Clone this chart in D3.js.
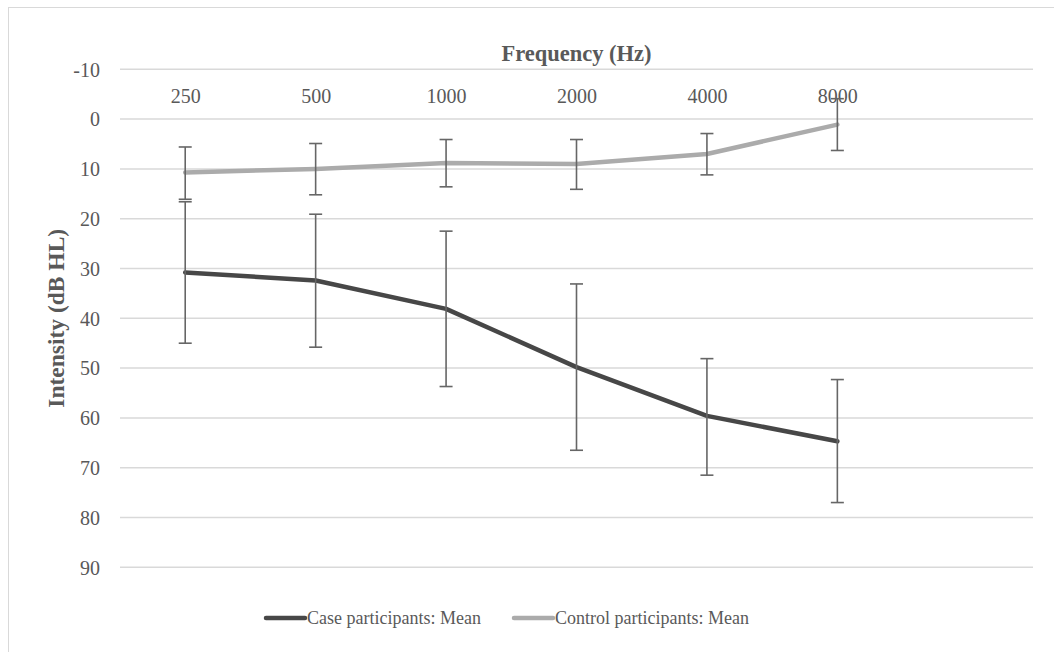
<!DOCTYPE html>
<html>
<head>
<meta charset="utf-8">
<script src="https://cdn.jsdelivr.net/npm/d3@7"></script>
<style>
  html, body { margin: 0; padding: 0; background: #fff; }
  svg { display: block; }
</style>
</head>
<body>
<svg id="chart" width="1054" height="652"></svg>
<script>
// ---- data ----
const categories = ["250", "500", "1000", "2000", "4000", "8000"];
const yTicks = [-10, 0, 10, 20, 30, 40, 50, 60, 70, 80, 90];

const caseMean  = [30.8, 32.4, 38.1, 49.8, 59.6, 64.7];
const caseLow   = [16.6, 19.1, 22.5, 33.1, 48.1, 52.3];
const caseHigh  = [45.0, 45.8, 53.7, 66.5, 71.5, 77.0];

const controlMean = [10.7, 10.0, 8.8, 9.0, 7.0, 1.1];
const controlLow  = [5.6, 4.9, 4.1, 4.1, 2.9, -4.1];
const controlHigh = [16.1, 15.2, 13.6, 14.1, 11.2, 6.3];

const seriesNames = ["Case participants: Mean", "Control participants: Mean"];

// ---- layout ----
const svg = d3.select("#chart");
const plotLeft = 120, plotRight = 1033;
const slots = 7; // the category axis holds one empty slot at the end
const x = d3.scalePoint()
  .domain(categories)
  .range([plotLeft, plotLeft + (plotRight - plotLeft) * (slots - 1) / slots])
  .padding(0.5);
const y = d3.scaleLinear().domain([-10, 90]).range([69.3, 567.3]);

const textColor = "#595959";
const serif = "'Liberation Serif', 'Times New Roman', serif";

// outer frame (top and left edges visible)
svg.append("rect")
  .attr("x", 8.5).attr("y", 7.5)
  .attr("width", 1100).attr("height", 700)
  .attr("fill", "none").attr("stroke", "#d9d9d9").attr("stroke-width", 1);

// gridlines
svg.append("g").selectAll("line").data(yTicks).join("line")
  .attr("x1", plotLeft).attr("x2", plotRight)
  .attr("y1", d => y(d)).attr("y2", d => y(d))
  .attr("stroke", "#d9d9d9").attr("stroke-width", 1.5);

// y axis
const yAxis = svg.append("g")
  .attr("transform", `translate(${plotLeft - 20},0)`)
  .call(d3.axisLeft(y).tickValues(yTicks).tickFormat(d => String(d)).tickSize(0).tickPadding(0));
yAxis.select(".domain").remove();
yAxis.selectAll("text")
  .attr("font-family", serif).attr("font-size", 20).attr("fill", textColor)
  .attr("dy", "0.34em");

// x axis labels (placed near the top)
const xAxis = svg.append("g")
  .attr("transform", `translate(0,103)`)
  .call(d3.axisBottom(x).tickSize(0).tickPadding(0));
xAxis.select(".domain").remove();
xAxis.selectAll("text")
  .attr("y", 0).attr("dy", 0)
  .attr("font-family", serif).attr("font-size", 20).attr("fill", textColor);

// axis titles
svg.append("text")
  .attr("x", (plotLeft + plotRight) / 2).attr("y", 61)
  .attr("text-anchor", "middle")
  .attr("font-family", serif).attr("font-size", 22.5).attr("font-weight", "bold")
  .attr("fill", textColor)
  .text("Frequency (Hz)");

svg.append("text")
  .attr("transform", `translate(64,${(y(-10) + y(90)) / 2}) rotate(-90)`)
  .attr("text-anchor", "middle")
  .attr("font-family", serif).attr("font-size", 23.5).attr("font-weight", "bold")
  .attr("fill", textColor)
  .text("Intensity (dB HL)");

// lines
const series = [
  { name: seriesNames[0], mean: caseMean, low: caseLow, high: caseHigh, color: "#474747" },
  { name: seriesNames[1], mean: controlMean, low: controlLow, high: controlHigh, color: "#ababab" }
];

const line = d3.line()
  .x((d, i) => x(categories[i]))
  .y(d => y(d));

series.forEach(s => {
  svg.append("path")
    .datum(s.mean)
    .attr("d", line)
    .attr("fill", "none")
    .attr("stroke", s.color)
    .attr("stroke-width", 4.5)
    .attr("stroke-linejoin", "round")
    .attr("stroke-linecap", "round");
});

// error bars
const errColor = "#666666";
const capHalf = 6.5;
series.forEach(s => {
  const g = svg.append("g");
  categories.forEach((c, i) => {
    const cx = x(c);
    g.append("line")
      .attr("x1", cx).attr("x2", cx)
      .attr("y1", y(s.low[i])).attr("y2", y(s.high[i]))
      .attr("stroke", errColor).attr("stroke-width", 1.6);
    [s.low[i], s.high[i]].forEach(v => {
      g.append("line")
        .attr("x1", cx - capHalf).attr("x2", cx + capHalf)
        .attr("y1", y(v)).attr("y2", y(v))
        .attr("stroke", errColor).attr("stroke-width", 1.6);
    });
  });
});

// legend
const legendItems = [
  { name: seriesNames[0], color: series[0].color, x0: 266 },
  { name: seriesNames[1], color: series[1].color, x0: 514 }
];
const lg = svg.append("g");
legendItems.forEach(d => {
  lg.append("line")
    .attr("x1", d.x0).attr("x2", d.x0 + 39)
    .attr("y1", 618).attr("y2", 618)
    .attr("stroke", d.color).attr("stroke-width", 4.5)
    .attr("stroke-linecap", "round");
  lg.append("text")
    .attr("x", d.x0 + 41).attr("y", 624)
    .attr("font-family", serif).attr("font-size", 18).attr("fill", textColor)
    .text(d.name);
});
</script>
</body>
</html>
